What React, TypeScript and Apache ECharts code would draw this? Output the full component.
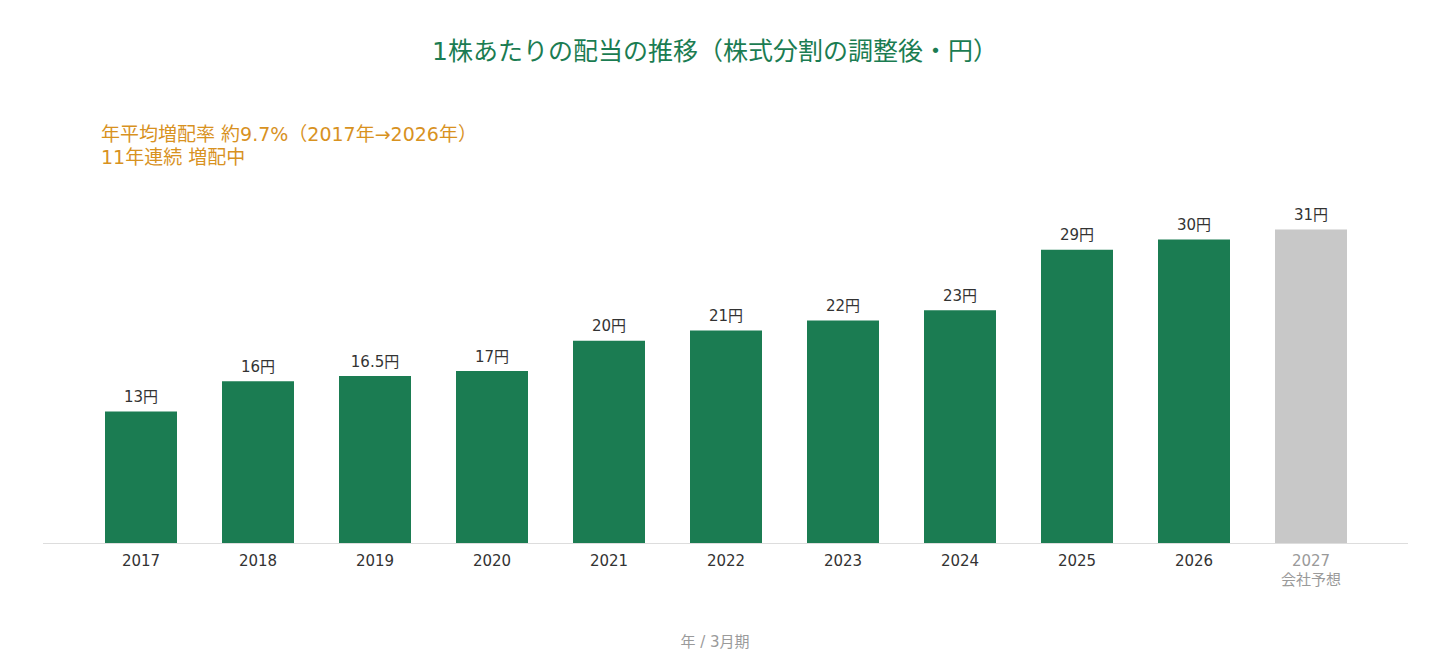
import React, { useEffect, useRef } from "react";
import * as echarts from "echarts";

const years = ["2017", "2018", "2019", "2020", "2021", "2022", "2023", "2024", "2025", "2026", "2027"];
const dividends = [13, 16, 16.5, 17, 20, 21, 22, 23, 29, 30, 31];
const forecastIndex = 10;
const forecastNote = "会社予想";
const titleText = "1株あたりの配当の推移（株式分割の調整後・円）";
const noteLines = ["年平均増配率 約9.7%（2017年→2026年）", "11年連続 増配中"];
const axisNameText = "年 / 3月期";

const FONT = "'DejaVu Sans', 'Noto Sans CJK JP', sans-serif";
const GREEN = "#1b7c52";
const GRAY = "#c8c8c8";

export default function App() {
  const ref = useRef<HTMLDivElement>(null);
  useEffect(() => {
    if (!ref.current) return;
    const chart = echarts.init(ref.current, null, { renderer: "svg" });
    chart.setOption({
      animation: false,
      textStyle: { fontFamily: FONT },
      title: {
        text: titleText,
        left: "center",
        top: 34,
        textStyle: { color: "#1b7c52", fontSize: 25, fontWeight: "normal", fontFamily: FONT },
      },
      grid: { left: 82.5, right: 60.5, top: 189, bottom: 128, containLabel: false },
      xAxis: {
        type: "category",
        data: years,
        axisLine: { show: false },
        axisTick: { show: false },
        axisLabel: {
          margin: 8,
          fontSize: 15,
          lineHeight: 19,
          fontFamily: FONT,
          formatter: (v: string, i: number) =>
            i === forecastIndex ? `{f|${v}}\n{f|${forecastNote}}` : `{n|${v}}`,
          rich: {
            n: { color: "#333333", fontSize: 15, lineHeight: 19, fontFamily: FONT },
            f: { color: "#9a9a9a", fontSize: 15, lineHeight: 19, fontFamily: FONT },
          },
        },
      },
      yAxis: {
        type: "value",
        min: 0,
        max: 35,
        show: false,
        splitLine: { show: false },
      },
      series: [
        {
          type: "bar",
          barWidth: 72,
          data: dividends.map((v, i) => ({
            value: v,
            itemStyle: { color: i === forecastIndex ? GRAY : GREEN },
          })),
          label: {
            show: true,
            position: "top",
            distance: 7,
            color: "#333333",
            fontSize: 15,
            fontFamily: FONT,
            formatter: (p: any) => `${p.value}円`,
          },
        },
      ],
      graphic: [
        {
          type: "line",
          shape: { x1: 43, y1: 543.5, x2: 1408, y2: 543.5 },
          style: { stroke: "#dddddd", lineWidth: 1 },
          z: 10,
        },
        {
          type: "text",
          left: 101,
          top: 122,
          style: {
            text: noteLines.join("\n"),
            fill: "#d8921f",
            fontSize: 19,
            lineHeight: 23,
            fontFamily: FONT,
          },
        },
        {
          type: "text",
          left: "center",
          top: 634,
          style: {
            text: axisNameText,
            fill: "#9a9a9a",
            fontSize: 15,
            fontFamily: FONT,
          },
        },
      ],
    });
    return () => chart.dispose();
  }, []);
  return (
    <div
      ref={ref}
      style={{ position: "fixed", left: 0, top: 0, width: 1430, height: 671, background: "#ffffff" }}
    />
  );
}
